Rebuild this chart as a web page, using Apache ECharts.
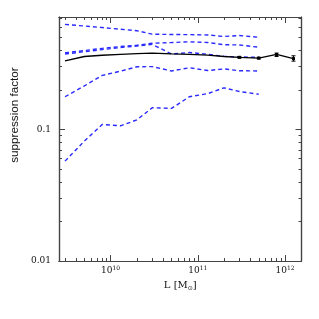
<!DOCTYPE html>
<html><head><meta charset="utf-8">
<script src="https://cdn.jsdelivr.net/npm/echarts@6/dist/echarts.min.js"></script>
<style>html,body{margin:0;padding:0;background:#fff}#c{width:319px;height:319px}</style>
</head><body><div id="c"></div>
<script>
// ---- data ----
const massX = [3e9, 5e9, 8e9, 1.3e10, 2e10, 3e10, 5e10, 8e10, 1.3e11, 2e11, 3e11, 5e11];
const blueA = [0.628, 0.610, 0.594, 0.577, 0.562, 0.529, 0.526, 0.525, 0.522, 0.508, 0.517, 0.501];
const blueB = [0.382, 0.397, 0.413, 0.426, 0.436, 0.451, 0.457, 0.463, 0.457, 0.440, 0.438, 0.421];
const blueC = [0.374, 0.389, 0.404, 0.419, 0.430, 0.443, 0.374, 0.384, 0.372, 0.359, 0.355, 0.353];
const blueD = [0.177, 0.214, 0.257, 0.277, 0.299, 0.300, 0.278, 0.294, 0.280, 0.288, 0.279, 0.278];
const blueE = [0.0574, 0.0815, 0.109, 0.1065, 0.118, 0.146, 0.1445, 0.177, 0.187, 0.207, 0.194, 0.185];
const blackX = [3e9, 5e9, 8e9, 1.3e10, 2e10, 3e10, 5e10, 8e10, 1.3e11, 2e11, 3e11, 5e11, 8e11, 1.25e12];
const blackY = [0.332, 0.358, 0.366, 0.372, 0.377, 0.380, 0.3745, 0.372, 0.367, 0.358, 0.353, 0.348, 0.371, 0.345];
const blackErrLo = [0, 0, 0, 0, 0, 0, 0, 0, 0, 0, 0.348, 0.343, 0.358, 0.330];
const blackErrHi = [0, 0, 0, 0, 0, 0, 0, 0, 0, 0, 0.358, 0.353, 0.380, 0.3625];
const xMajor = [1e10, 1e11, 1e12];
const xMinor = [3e9,4e9,5e9,6e9,7e9,8e9,9e9,2e10,3e10,4e10,5e10,6e10,7e10,8e10,9e10,2e11,3e11,4e11,5e11,6e11,7e11,8e11,9e11];
const yMajor = [0.01, 0.1];
const yMinor = [0.02,0.03,0.04,0.05,0.06,0.07,0.08,0.09,0.2,0.3,0.4,0.5,0.6,0.7];
const xMin = 2.56e9, xMax = 1.545e12, yMin = 0.01, yMax = 0.7145;

const frame = '#444';
const blue = '#2a2aff';
const serif = 'DejaVu Serif';

function xAx(pos, ticks, len, labels, extra) {
  return Object.assign({
    type: 'log', logBase: 10, position: pos, min: xMin, max: xMax,
    axisLine: {show: true, onZero: false, lineStyle: {color: frame, width: 1.2}},
    axisTick: {show: true, inside: true, length: len, customValues: ticks, lineStyle: {color: frame, width: 1}},
    axisLabel: labels ? {
      show: true, customValues: xMajor, margin: 4, color: '#111', fontFamily: serif, fontSize: 9,
      formatter: v => '10{s|' + Math.round(Math.log10(v)) + '}',
      rich: {s: {fontSize: 6, fontFamily: serif, color: '#111', padding: [0, 0, 6, 0]}}
    } : {show: false},
    splitLine: {show: false}
  }, extra || {});
}
function yAx(pos, ticks, len, labels) {
  return {
    type: 'log', logBase: 10, position: pos, min: yMin, max: yMax,
    axisLine: {show: true, onZero: false, lineStyle: {color: frame, width: 1.2}},
    axisTick: {show: true, inside: true, length: len, customValues: ticks, lineStyle: {color: frame, width: 1}},
    axisLabel: labels ? {
      show: true, customValues: yMajor, margin: 8, color: '#111', fontFamily: serif, fontSize: 9,
      formatter: v => String(v)
    } : {show: false},
    splitLine: {show: false}
  };
}

const chart = echarts.init(document.getElementById('c'), null, {renderer: 'canvas'});
function lineS(name, xs, ys) {
  return {
    name, type: 'line', xAxisIndex: 0, yAxisIndex: 0, showSymbol: false, smooth: false,
    data: xs.map((x, i) => [x, ys[i]]),
    lineStyle: {color: blue, width: 1.4, type: [4, 3]}, z: 3
  };
}
const option = {
  animation: false,
  backgroundColor: '#fff',
  grid: {left: 59, right: 17.5, top: 17, bottom: 58, containLabel: false},
  xAxis: [
    xAx('bottom', xMajor, 6, true, {
      name: 'L [M{sub|⊙}]', nameLocation: 'middle', nameGap: 18,
      nameTextStyle: {fontFamily: serif, fontSize: 10, color: '#111',
        rich: {sub: {fontSize: 6, fontFamily: 'DejaVu Sans', color: '#111', padding: [6, 0, 0, 0]}}}
    }),
    xAx('bottom', xMinor, 3, false),
    xAx('top', xMajor, 6, false),
    xAx('top', xMinor, 3, false)
  ],
  yAxis: [
    yAx('left', yMajor, 6, true),
    yAx('left', yMinor, 3, false),
    yAx('right', yMajor, 6, false),
    yAx('right', yMinor, 3, false)
  ],
  graphic: [{
    type: 'text', x: 15, y: 115, rotation: Math.PI / 2,
    style: {text: 'suppression factor', fontFamily: 'Liberation Sans', fontSize: 11.7, fill: '#111',
      textAlign: 'center', textVerticalAlign: 'middle'}
  }],
  series: [
    lineS('A', massX, blueA),
    lineS('B', massX, blueB),
    lineS('C', massX, blueC),
    lineS('D', massX, blueD),
    lineS('E', massX, blueE),
    {
      name: 'black', type: 'line', xAxisIndex: 0, yAxisIndex: 0,
      data: blackX.map((x, i) => [x, blackY[i]]),
      symbol: 'rect', symbolSize: (v) => v[0] >= 3e11 ? 3 : 0, showSymbol: true,
      itemStyle: {color: '#000'}, lineStyle: {color: '#000', width: 1.3}, z: 4
    },
    {
      name: 'err', type: 'custom', xAxisIndex: 0, yAxisIndex: 0, z: 5,
      data: blackX.map((x, i) => [x, blackErrLo[i], blackErrHi[i]]).filter(d => d[1] > 0),
      renderItem: (params, api) => {
        const lo = api.coord([api.value(0), api.value(1)]);
        const hi = api.coord([api.value(0), api.value(2)]);
        const w = 2;
        const st = {stroke: '#000', lineWidth: 1};
        return {type: 'group', children: [
          {type: 'line', shape: {x1: lo[0], y1: lo[1], x2: hi[0], y2: hi[1]}, style: st},
          {type: 'line', shape: {x1: lo[0] - w, y1: lo[1], x2: lo[0] + w, y2: lo[1]}, style: st},
          {type: 'line', shape: {x1: hi[0] - w, y1: hi[1], x2: hi[0] + w, y2: hi[1]}, style: st}
        ]};
      }
    }
  ]
};
chart.setOption(option);
</script></body></html>
